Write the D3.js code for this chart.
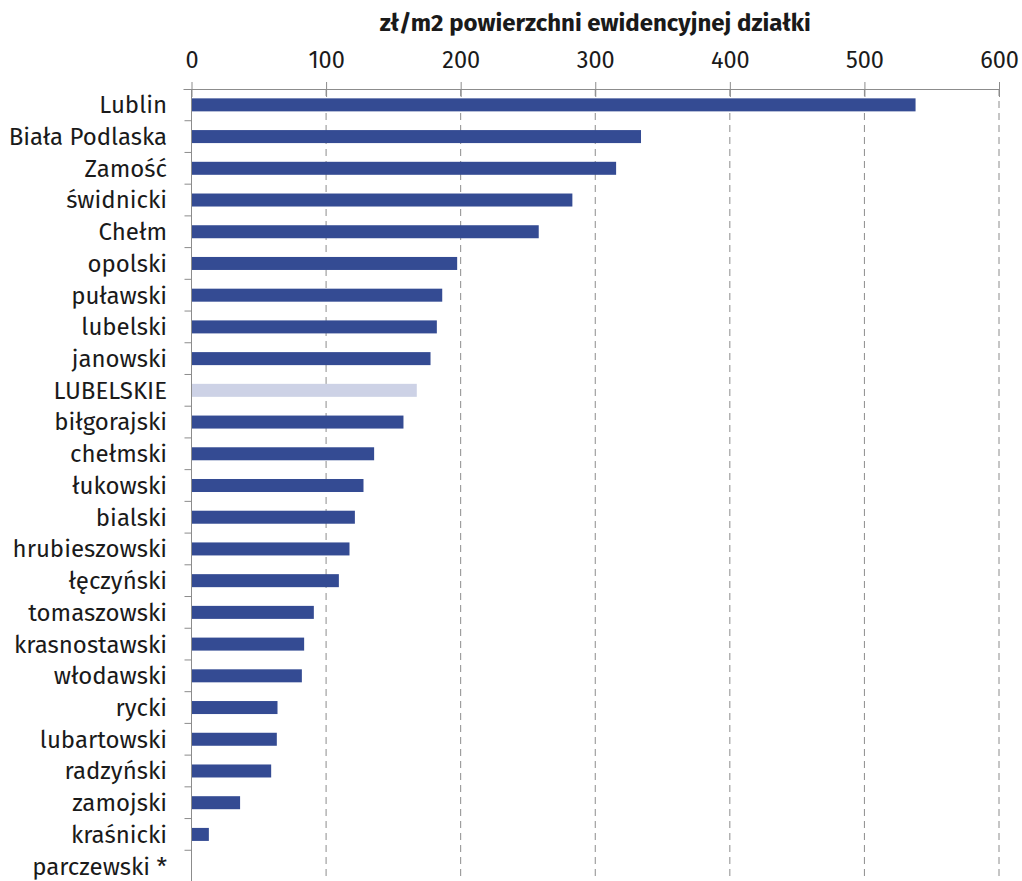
<!DOCTYPE html>
<html>
<head>
<meta charset="utf-8">
<script src="https://cdn.jsdelivr.net/npm/d3@7"></script>
<style>
  html, body { margin: 0; padding: 0; background: #fff; }
  svg { display: block; }
  text { font-family: "Fira Sans", "Noto Sans", "Open Sans", sans-serif; fill: #1a1a1a; }
</style>
</head>
<body>
<svg id="chart" width="1022" height="881"></svg>
<script>
// Cena za m2 powierzchni ewidencyjnej działki wg powiatów
const categories = [
  "Lublin", "Biała Podlaska", "Zamość", "świdnicki", "Chełm", "opolski",
  "puławski", "lubelski", "janowski", "LUBELSKIE", "biłgorajski", "chełmski",
  "łukowski", "bialski", "hrubieszowski", "łęczyński", "tomaszowski",
  "krasnostawski", "włodawski", "rycki", "lubartowski", "radzyński",
  "zamojski", "kraśnicki", "parczewski *"
];
const values = [
  538, 334, 315.5, 283, 258, 197.4,
  186.3, 182.3, 177.6, 167.4, 157.5, 135.7,
  127.8, 121.4, 117.4, 109.5, 90.9,
  83.7, 82.0, 63.9, 63.4, 59.2,
  36.1, 12.9, null
];
const highlighted = ["LUBELSKIE"];
const xTicks = [0, 100, 200, 300, 400, 500, 600];
const axisTitle = "zł/m2 powierzchni ewidencyjnej działki";

const svg = d3.select("#chart");
const plotLeft = 191.5, plotRight = 999, plotTop = 89, plotBottom = 882;

const x = d3.scaleLinear().domain([0, 600]).range([plotLeft, plotRight]);
const y = d3.scaleBand().domain(categories).range([plotTop, plotBottom]).paddingInner(0.59).paddingOuter(0.295);

// pionowe linie siatki (przerywane)
svg.append("g")
  .selectAll("line")
  .data(xTicks.slice(1))
  .join("line")
  .attr("x1", d => x(d)).attr("x2", d => x(d))
  .attr("y1", plotTop).attr("y2", plotBottom)
  .attr("stroke", "#8c8c8c")
  .attr("stroke-width", 1)
  .attr("stroke-dasharray", "7,5");

// słupki
const data = categories.map((c, i) => ({ c, v: values[i] })).filter(d => d.v != null);
svg.append("g")
  .selectAll("rect")
  .data(data)
  .join("rect")
  .attr("x", x(0))
  .attr("y", d => y(d.c))
  .attr("width", d => x(d.v) - x(0))
  .attr("height", y.bandwidth())
  .attr("fill", d => highlighted.includes(d.c) ? "#cdd2e6" : "#344b93");

// oś górna
const xAxis = svg.append("g")
  .attr("transform", `translate(0,${plotTop})`)
  .call(d3.axisTop(x).tickValues(xTicks).tickSizeInner(7).tickSizeOuter(0).tickPadding(14));
xAxis.select(".domain").attr("stroke", "#8c8c8c").attr("d", `M${plotLeft - 8},0.5H${plotRight}`);
xAxis.selectAll(".tick line").attr("stroke", "#8c8c8c").attr("y1", 8);
xAxis.selectAll(".tick text")
  .style("font-size", "23.5px")
  .attr("fill", "#1a1a1a");

// oś lewa z kreskami między kategoriami
const yAxisG = svg.append("g");
yAxisG.append("line")
  .attr("x1", plotLeft).attr("x2", plotLeft)
  .attr("y1", plotTop).attr("y2", plotBottom)
  .attr("stroke", "#8c8c8c");
const step = y.step();
yAxisG.selectAll("line.tk")
  .data(d3.range(1, categories.length))
  .join("line")
  .attr("class", "tk")
  .attr("x1", plotLeft - 7).attr("x2", plotLeft)
  .attr("y1", i => plotTop + i * step).attr("y2", i => plotTop + i * step)
  .attr("stroke", "#8c8c8c");
yAxisG.selectAll("text")
  .data(categories)
  .join("text")
  .attr("x", 167)
  .attr("y", d => y(d) + y.bandwidth() / 2)
  .attr("dy", "0.35em")
  .attr("text-anchor", "end")
  .style("font-size", "24px")
  .text(d => d);

// tytuł osi
svg.append("text")
  .attr("x", (plotLeft + plotRight) / 2)
  .attr("y", 31)
  .attr("text-anchor", "middle")
  .style("font-size", "24px")
  .style("font-weight", "bold")
  .text(axisTitle);
</script>
</body>
</html>
